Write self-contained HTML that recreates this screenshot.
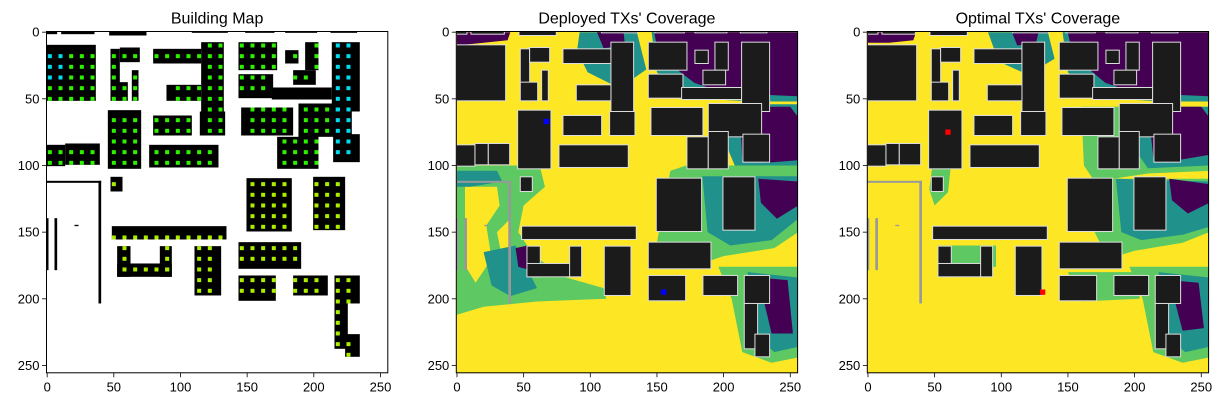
<!DOCTYPE html>
<html><head><meta charset="utf-8"><style>
html,body{margin:0;padding:0;background:#fff;}
svg{display:block;font-family:"Liberation Sans","DejaVu Sans",sans-serif;}
</style></head><body>
<svg id="fig" width="1224" height="407" viewBox="0 0 1224 407" xmlns="http://www.w3.org/2000/svg"></svg>
<script>
// ---- data (data coordinates: column x, row y; each building is [x, y, w, h]) ----
const panelTitles = ["Building Map", "Deployed TXs' Coverage", "Optimal TXs' Coverage"];
const tickValues = [0, 50, 100, 150, 200, 250];
const buildings = [
 [0,0,8,2],[11,0,25,2],[47,0,28,3],[109,0,27,1],[149,0,22,1],[179,0,24,1],[213,0,20,1],
 [0,10,37,42],[48,13,7,28],[55,12,15,11],[48,38,13,14],[64,29,5,23],
 [80,13,36,11],[116,8,17,52],[90,40,26,12],
 [144,8,29,21],[179,14,10,10],[194,8,10,21],[144,32,26,18],[169,42,45,9],[185,29,17,11],[214,8,21,52],
 [46,59,25,44],[80,63,29,15],[115,60,19,18],[146,57,39,21],[173,79,16,24],[189,54,40,25],[189,75,15,28],[215,77,20,21],
 [0,85,14,16],[14,84,10,16],[24,84,16,16],[77,85,52,17],
 [48,109,9,11],[150,110,34,40],[200,109,24,40],
 [49,146,86,10],
 [53,161,10,23],[53,174,41,10],[85,161,9,23],
 [111,161,20,37],[144,158,47,20],[144,183,28,19],[185,183,26,15],[216,183,19,21],[216,204,10,34],[224,227,11,17]
];
const walls = [[0,112,41,1.5],[39,112,2,92],[-0.5,140,2,39],[6,140,2,39],[21,145,3,1]];
// coverage zones per panel: [colorIndex, polygon points]
const deployedZones = [
 [1,[[0,0],[40,0],[38,6],[20,8],[0,10]]],
 [2,[[92,0],[135,0],[142,28],[122,42],[98,30],[90,14]]],
 [1,[[105,0],[125,0],[126,10],[110,12]]],
 [2,[[146,0],[256,0],[256,52],[225,52],[180,50],[165,44],[150,30]]],
 [1,[[148,0],[256,0],[256,48],[230,47],[190,42],[178,38],[165,28],[152,22]]],
 [2,[[200,54],[256,54],[256,102],[210,104],[200,80]]],
 [1,[[212,56],[250,56],[256,64],[256,96],[232,98],[214,96]]],
 [3,[[0,100],[62,100],[66,116],[50,130],[46,150],[58,168],[82,184],[110,192],[112,200],[60,202],[20,206],[0,212]]],
 [0,[[6,116],[30,116],[32,130],[22,145],[26,170],[14,188],[6,175]]],
 [0,[[30,150],[40,140],[40,165],[34,170]]],
 [2,[[20,165],[44,160],[52,176],[60,192],[40,198],[26,190]]],
 [2,[[0,104],[30,104],[34,112],[10,116],[0,116]]],
 [1,[[44,162],[53,160],[53,178],[46,176]]],
 [3,[[172,100],[256,100],[256,150],[238,162],[200,168],[170,178],[150,158],[160,104]]],
 [2,[[184,108],[256,108],[256,140],[236,156],[205,160],[188,150]]],
 [1,[[226,110],[256,112],[256,130],[240,140],[228,128]]],
 [3,[[196,176],[256,176],[256,244],[236,248],[214,240],[206,200]]],
 [2,[[218,180],[256,184],[256,236],[238,240],[226,230]]],
 [1,[[226,184],[248,186],[252,226],[236,226]]]
];
const optimalZones = [
 [1,[[0,0],[36,0],[34,6],[16,8],[0,8]]],
 [2,[[90,0],[135,0],[140,20],[120,32],[98,22]]],
 [1,[[108,0],[128,0],[126,8],[112,10]]],
 [2,[[146,0],[256,0],[256,52],[225,52],[180,50],[165,44],[150,30]]],
 [1,[[150,0],[256,0],[256,48],[230,47],[190,42],[178,38],[166,28],[154,20]]],
 [3,[[160,56],[256,56],[256,104],[210,106],[170,112],[162,100]]],
 [2,[[196,56],[256,56],[256,100],[210,102],[196,82]]],
 [1,[[210,56],[250,56],[256,64],[256,92],[232,96],[214,94]]],
 [3,[[48,102],[62,102],[60,120],[50,130],[46,118]]],
 [3,[[176,110],[256,110],[256,150],[236,158],[200,164],[180,170],[170,150]]],
 [2,[[186,110],[256,112],[256,146],[236,152],[205,156],[190,150]]],
 [1,[[226,110],[256,114],[256,128],[240,136],[228,126]]],
 [3,[[52,160],[96,160],[96,176],[60,180]]],
 [3,[[150,180],[200,180],[204,200],[160,202]]],
 [3,[[196,176],[256,176],[256,244],[236,248],[214,240],[206,200]]],
 [2,[[218,180],[256,184],[256,236],[238,240],[226,230]]],
 [1,[[226,186],[248,188],[252,222],[236,224]]]
];
const deployedTx = [[67,67],[155,195]];
const optimalTx = [[60,75],[131,195]];
const zoneColors = ["#fde725","#440154","#21918c","#5ec962"];

// ---- layout ----
const NS = "http://www.w3.org/2000/svg";
const svg = document.getElementById('fig');
const panelLeft = [46.5, 456.3, 867.3];
const top0 = 31.5, S = 341.3/256;
function mk(tag, attrs, parent){const e=document.createElementNS(NS,tag);for(const k in attrs)e.setAttribute(k,attrs[k]);(parent||svg).appendChild(e);return e;}
function px(v){return (v+0.5)*S;}
function poly(pts){return pts.map(p=>px(p[0]).toFixed(1)+","+px(p[1]).toFixed(1)).join(" ");}

panelLeft.forEach((L, pi) => {
  const g = mk('g', {transform:`translate(${L},${top0})`});
  
  
  const clipId = 'clip'+pi;
  const cp = mk('clipPath',{id:clipId},g); mk('rect',{x:0,y:0,width:341.3,height:341.3},cp);
  const inner = mk('g',{'clip-path':`url(#${clipId})`},g);
  const bg = mk('rect',{x:0,y:0,width:341.3,height:341.3,fill: pi===0?'#ffffff':zoneColors[0]},inner);
  
  
  if(pi>0){
    (pi===1?deployedZones:optimalZones).forEach(z=>{
      const p = mk('polygon',{points:poly(z[1]),fill:zoneColors[z[0]]},inner);
      
      
    });
  }
  buildings.forEach(b=>{
    const r = mk('rect',{x:px(b[0]-0.5),y:px(b[1]-0.5),width:b[2]*S,height:b[3]*S,
      fill: pi===0?'#000':'#1b1b1b', stroke: pi===0?'none':'#dddddd','stroke-width':pi===0?0:1},inner);
    
    
  });
  walls.forEach(w=>{
    const r = mk('rect',{x:px(w[0]-0.5),y:px(w[1]-0.5),width:w[2]*S,height:w[3]*S,fill:pi===0?'#000':'#999'},inner);
    
    
  });
  if(pi===0){
    buildings.forEach(b=>{
      for(let y=2;y<256;y+=8)for(let x=2;x<256;x+=8){
        if(x>=b[0]+1&&x<=b[0]+b[2]-2&&y>=b[1]+1&&y<=b[1]+b[3]-2){
          let c = y<110?'#2ef000':'#aaee00';
          if((x>=218&&y<100)||(x<14&&y>10&&y<40)) c='#00ddee';
          const d = mk('rect',{x:px(x-1.5),y:px(y-1.5),width:3*S,height:3*S,fill:c},inner);
          
          
        }
      }
    });
  } else {
    (pi===1?deployedTx:optimalTx).forEach(t=>{
      const d = mk('rect',{x:px(t[0]-2),y:px(t[1]-2),width:4*S,height:4*S,fill:pi===1?'#0000ff':'#ff0000'},inner);
      
      
    });
  }
  const frame = mk('rect',{x:0,y:0,width:341.3,height:341.3,fill:'none',stroke:'#000','stroke-width':1},g);
  
  
  tickValues.forEach(v=>{
    const p = px(v);
    mk('line',{x1:p,y1:341.3,x2:p,y2:345.8,stroke:'#000','stroke-width':0.8},g);
    const tx = mk('text',{x:p,y:360,'text-anchor':'middle','font-size':13,fill:'#000'},g);
    tx.textContent = v;
    
    
    mk('line',{x1:0,y1:p,x2:-4.5,y2:p,stroke:'#000','stroke-width':0.8},g);
    const ty = mk('text',{x:-7,y:p+4.5,'text-anchor':'end','font-size':13,fill:'#000'},g);
    ty.textContent = v;
    
    
  });
  const t = mk('text',{x:170.6,y:-8,'text-anchor':'middle','font-size':16,fill:'#000'},g);
  t.textContent = panelTitles[pi];
  
  
});
</script>
</body></html>
